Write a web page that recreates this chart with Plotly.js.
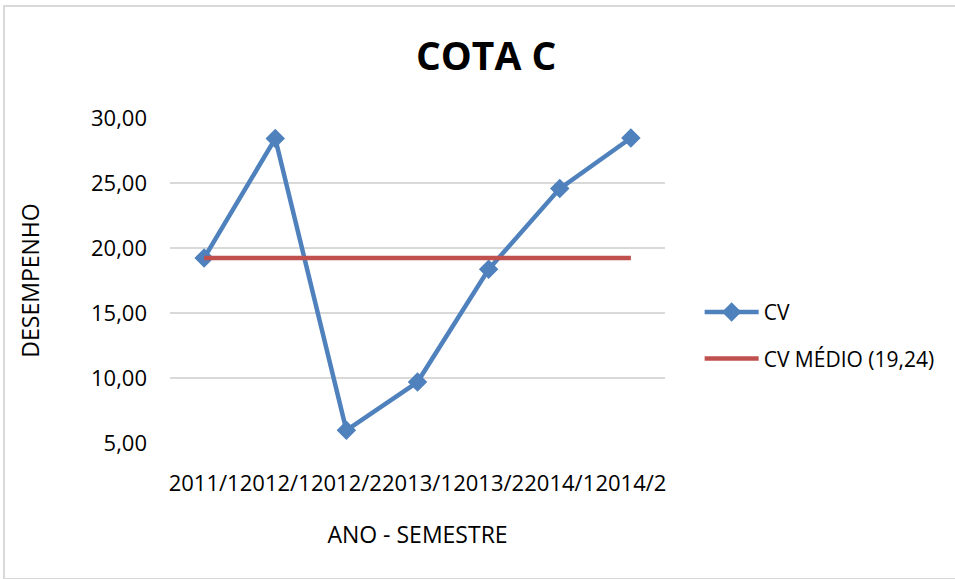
<!DOCTYPE html>
<html>
<head>
<meta charset="utf-8">
<script src="https://cdn.plot.ly/plotly-3.0.1.min.js"></script>
<style>
  html, body { margin: 0; padding: 0; background: #fff; overflow: hidden; }
  #frame { position: absolute; left: 3px; top: 5px; width: 980px; height: 571px; border: 2px solid #d9d9d9; pointer-events: none; }
  #chart { width: 955px; height: 579px; }
</style>
</head>
<body>
<div id="chart"></div>
<div id="frame"></div>
<script>
const periods = ['2011/1', '2012/1', '2012/2', '2013/1', '2013/2', '2014/1', '2014/2'];
const cv = [19.23, 28.42, 5.98, 9.69, 18.36, 24.57, 28.46];
const cvMedio = [19.24, 19.24, 19.24, 19.24, 19.24, 19.24, 19.24];
const yTicks = [5, 10, 15, 20, 25, 30];

const font = 'Open Sans, sans-serif';

const traces = [
  {
    x: periods,
    y: cv,
    name: 'CV',
    type: 'scatter',
    mode: 'lines+markers',
    line: { color: '#4f81bd', width: 4.5 },
    marker: { symbol: 'diamond', size: 15, color: '#4f81bd' },
    legendgroup: 'a'
  },
  {
    x: periods,
    y: cvMedio,
    name: 'CV MÉDIO (19,24)',
    type: 'scatter',
    mode: 'lines',
    line: { color: '#c0504d', width: 4.5 },
    legendgroup: 'b'
  }
];

const layout = {
  width: 955,
  height: 579,
  separators: ',.',
  paper_bgcolor: '#fff',
  plot_bgcolor: '#fff',
  font: { family: font, color: '#000', size: 21 },
  margin: { l: 170, r: 290, t: 118, b: 136 },
  title: {
    text: '<b>COTA C</b>',
    font: { family: font, size: 39, color: '#000' },
    x: 0.509, xref: 'container', xanchor: 'center',
    y: 0.902, yref: 'container', yanchor: 'middle'
  },
  xaxis: {
    type: 'category',
    showgrid: false,
    showline: false,
    zeroline: false,
    ticks: '',
    tickangle: 0,
    ticklabelstandoff: 25,
    tickfont: { family: font, size: 22 },
    title: { text: 'ANO - SEMESTRE', font: { family: font, size: 23 }, standoff: 30 }
  },
  yaxis: {
    range: [5, 30],
    tickvals: yTicks,
    tickformat: '.2f',
    showgrid: true,
    gridcolor: '#d9d9d9',
    gridwidth: 1.5,
    showline: false,
    zeroline: false,
    ticks: '',
    ticklabelstandoff: 22,
    tickfont: { family: font, size: 22 },
    title: { text: 'DESEMPENHO', font: { family: font, size: 23 }, standoff: 44 }
  },
  showlegend: true,
  legend: {
    x: 1.07, xanchor: 'left', xref: 'paper',
    y: 0.331, yanchor: 'middle', yref: 'paper',
    font: { family: font, size: 21 },
    traceorder: 'grouped',
    tracegroupgap: 16,
    itemwidth: 54,
    bgcolor: 'rgba(0,0,0,0)'
  }
};

Plotly.newPlot('chart', traces, layout, { displayModeBar: false, staticPlot: true });
</script>
</body>
</html>
